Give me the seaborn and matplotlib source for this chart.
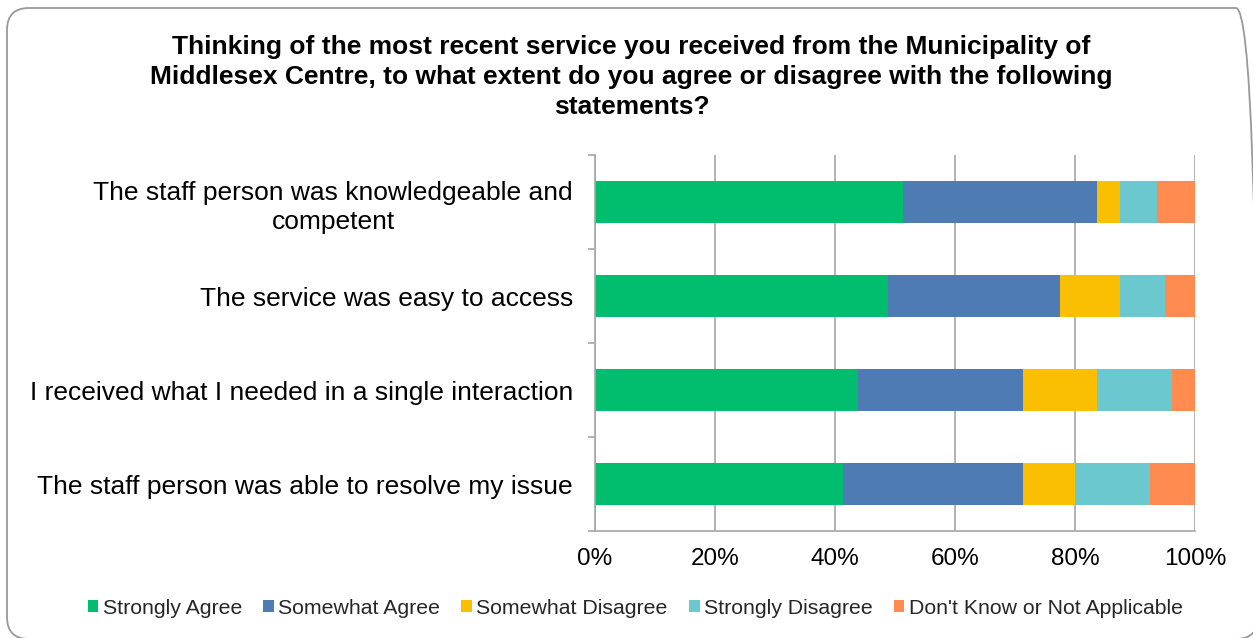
import matplotlib
matplotlib.use("Agg")
import matplotlib.pyplot as plt
from matplotlib.patches import FancyBboxPatch, Patch
from matplotlib.transforms import IdentityTransform
import numpy as np
import pandas as pd
import seaborn as sns

statements = [
    "The staff person was knowledgeable and\ncompetent",
    "The service was easy to access",
    "I received what I needed in a single interaction",
    "The staff person was able to resolve my issue",
]
responses = ["Strongly Agree", "Somewhat Agree", "Somewhat Disagree",
             "Strongly Disagree", "Don't Know or Not Applicable"]
strongly_agree = [51.25, 48.75, 43.75, 41.25]
somewhat_agree = [32.5, 28.75, 27.5, 30.0]
somewhat_disagree = [3.75, 10.0, 12.5, 8.75]
strongly_disagree = [6.25, 7.5, 12.5, 12.5]
dont_know = [6.25, 5.0, 3.75, 7.5]
colors = ["#00BE6E", "#4E7BB4", "#F9BF00", "#6BC8CE", "#FF8B50"]

title = ("Thinking of the most recent service you received from the Municipality of\n"
         "Middlesex Centre, to what extent do you agree or disagree with the following\n"
         "statements?")

sns.set_theme(style="white")
plt.rcParams["font.family"] = ["Liberation Sans", "DejaVu Sans"]

series = [strongly_agree, somewhat_agree, somewhat_disagree, strongly_disagree, dont_know]
df = pd.DataFrame({"statement": statements})
cum = np.zeros(len(statements))
for name, vals in zip(responses, series):
    cum = cum + np.array(vals)
    df[name] = cum.copy()

fig = plt.figure(figsize=(12.53, 6.38), dpi=100)
ax = fig.add_axes([0.4749, 0.1677, 0.4788, 0.5893])

# stacked bars: draw cumulative totals from the outermost segment inward
for name, col in reversed(list(zip(responses, colors))):
    sns.barplot(data=df, x=name, y="statement", orient="h", color=col,
                width=0.45, saturation=1, ax=ax, linewidth=0)

ax.set_xlim(0, 100)
ax.set_ylim(3.5, -0.5)
ax.set_xlabel("")
ax.set_ylabel("")
ax.set_xticks([0, 20, 40, 60, 80, 100])
ax.set_xticklabels([f"{v}%" for v in [0, 20, 40, 60, 80, 100]])
ax.xaxis.grid(True, color="#A6A6A6", linewidth=1.2)
ax.set_axisbelow(True)
for s in ["top", "right"]:
    ax.spines[s].set_visible(False)
for s in ["left", "bottom"]:
    ax.spines[s].set_color("#A6A6A6")
    ax.spines[s].set_linewidth(1.2)

ax.set_yticks([-0.5, 0.5, 1.5, 2.5, 3.5], minor=True)
ax.tick_params(axis="y", which="minor", length=5, color="#A6A6A6", width=1.2, left=True)
ax.tick_params(axis="y", which="major", length=0, pad=16, labelsize=19, labelcolor="black")
ax.tick_params(axis="x", which="major", length=0, pad=12, labelsize=17.5, labelcolor="black")
for lbl in ax.get_yticklabels():
    lbl.set_multialignment("center")
    lbl.set_linespacing(1.3)

fig.text(0.504, 0.945, title, ha="center", va="top", fontsize=19,
         fontweight="bold", linespacing=1.32, color="black")

handles = [Patch(facecolor=c, edgecolor="none") for c in colors]
fig.legend(handles, responses, loc="center", bbox_to_anchor=(0.507, 0.047),
           ncol=5, frameon=False, fontsize=15.3, handlelength=0.5, handleheight=0.5,
           handletextpad=0.2, columnspacing=1.0)

# rounded chart frame, in pixel coordinates
border = FancyBboxPatch((7, -1), 1251, 631, transform=IdentityTransform(),
                        boxstyle="round,pad=0,rounding_size=22",
                        facecolor="none", edgecolor="#999999", linewidth=1.3)
fig.patches.append(border)

fig.savefig("out.png", dpi=100)
